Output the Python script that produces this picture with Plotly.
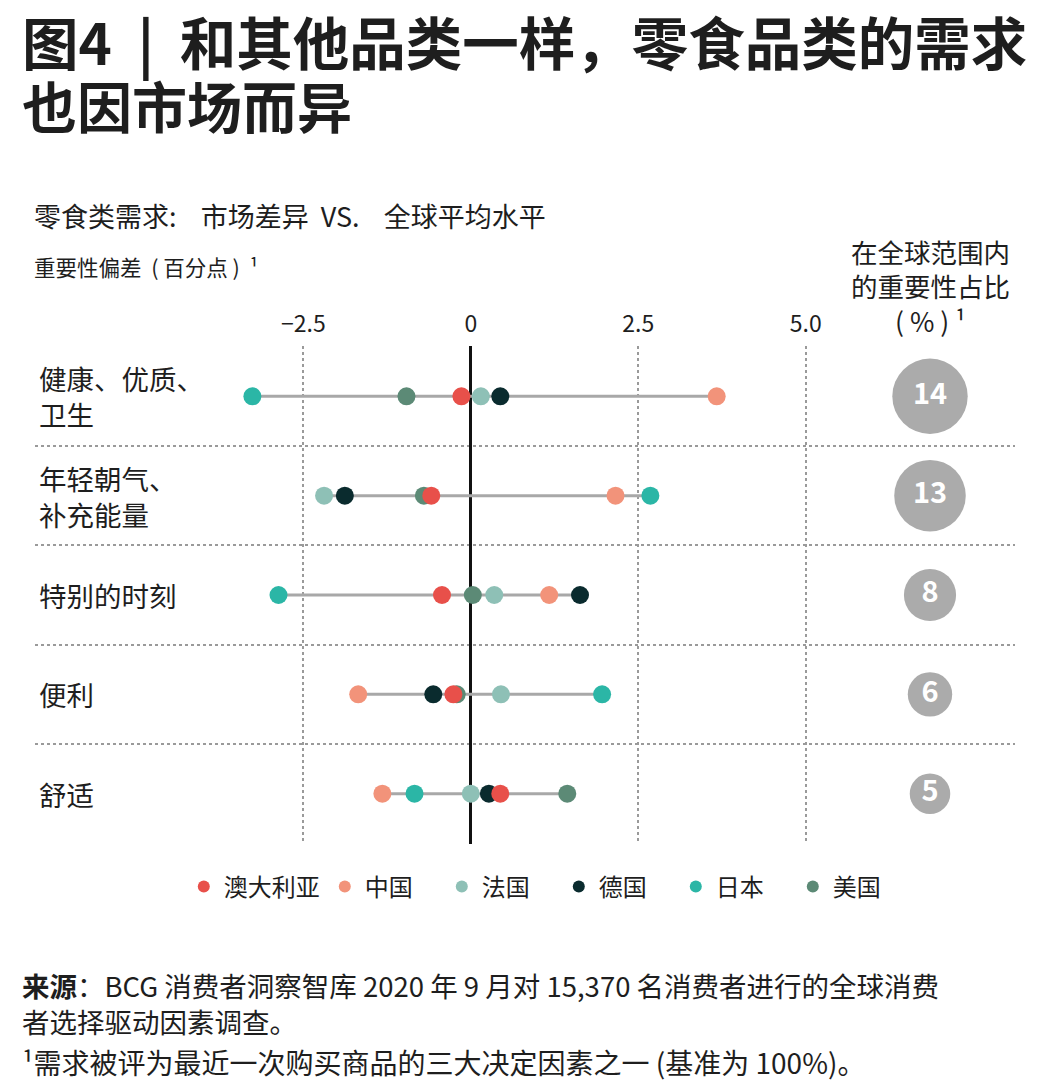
import plotly.graph_objects as go

# ---------------- data ----------------
categories = ["健康、优质、<br>卫生", "年轻朝气、<br>补充能量", "特别的时刻", "便利", "舒适"]
countries = ["澳大利亚", "中国", "法国", "德国", "日本", "美国"]
australia = [-0.14, -0.59, -0.43, -0.26, 0.44]
china = [3.67, 2.16, 1.17, -1.68, -1.32]
france = [0.15, -2.19, 0.35, 0.45, 0.00]
germany = [0.44, -1.88, 1.63, -0.56, 0.27]
japan = [-3.26, 2.68, -2.87, 1.96, -0.84]
usa = [-0.96, -0.70, 0.03, -0.21, 1.44]
global_share = [14, 13, 8, 6, 5]
tick_values = [-2.5, 0, 2.5, 5.0]
tick_labels = ["−2.5", "0", "2.5", "5.0"]

series = {
    "澳大利亚": australia,
    "中国": china,
    "法国": france,
    "德国": germany,
    "日本": japan,
    "美国": usa,
}
colors = {
    "澳大利亚": "#E8504A",
    "中国": "#F2937A",
    "法国": "#8EC0B6",
    "德国": "#0A2B2E",
    "日本": "#2BB6A6",
    "美国": "#5C8A76",
}

# ---------------- layout helpers ----------------
W, H = 1041, 1083
ML, MR, MT, MB = 35, 26, 346, 239
PW, PH = W - ML - MR, H - MT - MB
FONT = "Noto Sans CJK SC, Noto Sans, sans-serif"
TXT = "#1e1e1e"
NB = "\u00a0"


def px(x):
    return (x - ML) / PW


def py(y):
    return (H - MB - y) / PH


fig = go.Figure()

# connector lines (min to max per category)
lx, ly = [], []
for i, c in enumerate(categories):
    vals = [series[k][i] for k in countries]
    lx += [min(vals), max(vals), None]
    ly += [c, c, None]
fig.add_trace(go.Scatter(x=lx, y=ly, mode="lines", line=dict(color="#A8A8A8", width=3),
                         showlegend=False, hoverinfo="skip"))

draw_order = ["中国", "法国", "德国", "日本", "美国", "澳大利亚"]
for name in draw_order:
    # pad short legend names so the legend entries spread like the original
    label = name if (len(name) > 2 or name == countries[-1]) else name + "\u2003"
    fig.add_trace(go.Scatter(
        x=series[name], y=categories, mode="markers", name=label,
        legendrank=countries.index(name) + 1,
        marker=dict(size=18, color=colors[name], line=dict(width=0), opacity=1),
    ))

# global share bubbles
bubble_sizes = [21.2 + 3.87 * v for v in global_share]
fig.add_trace(go.Scatter(
    x=["share"] * len(global_share), y=categories, xaxis="x2", yaxis="y",
    mode="markers+text", text=[str(v) for v in global_share],
    texttemplate="<b>%{text}</b>", textposition="middle center",
    textfont=dict(color="white", size=29, family=FONT),
    marker=dict(size=bubble_sizes, color="#ABABAB", line=dict(width=0), opacity=1),
    showlegend=False, hoverinfo="skip",
))

xmin = (ML - 470.8) / 67.0
xmax = (W - MR - 470.8) / 67.0

annotations = []
# category labels
for c in categories:
    annotations.append(dict(x=px(37), y=c, xref="paper", yref="y", text=c, showarrow=False,
                            xanchor="left", yanchor="middle", align="left",
                            font=dict(size=27.5, color=TXT, family=FONT)))
# title
annotations.append(dict(x=px(20), y=py(40), xref="paper", yref="paper", showarrow=False,
                        xanchor="left", yanchor="middle",
                        text="<b>图4" + NB * 2 + "|" + NB * 2 + "和其他品类一样，零食品类的需求</b>",
                        font=dict(size=56.5, color=TXT, family=FONT)))
annotations.append(dict(x=px(20), y=py(104), xref="paper", yref="paper", showarrow=False,
                        xanchor="left", yanchor="middle",
                        text="<b>也因市场而异</b>",
                        font=dict(size=55, color=TXT, family=FONT)))
annotations.append(dict(x=px(32), y=py(215), xref="paper", yref="paper", showarrow=False,
                        xanchor="left", yanchor="middle",
                        text="零食类需求:" + NB * 4 + "市场差异" + NB * 2 + "VS." + NB * 4 + "全球平均水平",
                        font=dict(size=27, color=TXT, family=FONT)))
annotations.append(dict(x=px(32), y=py(266), xref="paper", yref="paper", showarrow=False,
                        xanchor="left", yanchor="middle",
                        text="重要性偏差" + NB * 2 + "(" + NB + "百分点" + NB + ")" + NB * 2 + "¹",
                        font=dict(size=21.5, color=TXT, family=FONT)))
annotations.append(dict(x=px(930), y=py(286), xref="paper", yref="paper", showarrow=False,
                        xanchor="center", yanchor="middle", align="center",
                        text="在全球范围内<br>的重要性占比<br>( % ) ¹",
                        font=dict(size=26.5, color=TXT, family=FONT)))
# footer
annotations.append(dict(x=px(20), y=py(1003), xref="paper", yref="paper", showarrow=False,
                        xanchor="left", yanchor="middle", align="left",
                        text="<b>来源</b>：BCG 消费者洞察智库 2020 年 9 月对 15,370 名消费者进行的全球消费"
                             "<br>者选择驱动因素调查。",
                        font=dict(size=27.5, color=TXT, family=FONT)))
annotations.append(dict(x=px(20), y=py(1062), xref="paper", yref="paper", showarrow=False,
                        xanchor="left", yanchor="middle",
                        text="¹需求被评为最近一次购买商品的三大决定因素之一 (基准为 100%)。",
                        font=dict(size=28, color=TXT, family=FONT)))

fig.update_layout(
    width=W, height=H,
    margin=dict(l=ML, r=MR, t=MT, b=MB, pad=0),
    paper_bgcolor="white", plot_bgcolor="white",
    font=dict(family=FONT, color=TXT),
    xaxis=dict(
        range=[xmin, xmax], side="top", tickvals=tick_values, ticktext=tick_labels,
        tickfont=dict(size=23, color=TXT, family=FONT), ticks="", ticklabelstandoff=8,
        showgrid=True, gridcolor="#9A9A9A", griddash="dot", gridwidth=2,
        zeroline=True, zerolinecolor="#111111", zerolinewidth=2.5,
        showline=False, fixedrange=True,
    ),
    xaxis2=dict(domain=[px(880), px(980)], anchor="y", visible=False, type="category"),
    yaxis=dict(
        type="category", categoryorder="array", categoryarray=categories,
        range=[len(categories) - 0.5 + 0.006, -0.5 - 0.006],
        tickson="boundaries", showgrid=True, gridcolor="#9A9A9A", griddash="dot", gridwidth=2,
        showticklabels=False, ticks="", zeroline=False, showline=False,
    ),
    legend=dict(orientation="h", x=0.51, xanchor="center", y=py(887), yanchor="middle",
                font=dict(size=24, color=TXT, family=FONT), itemsizing="constant"),
    annotations=annotations,
    showlegend=True,
)

fig.write_html("out.html")
